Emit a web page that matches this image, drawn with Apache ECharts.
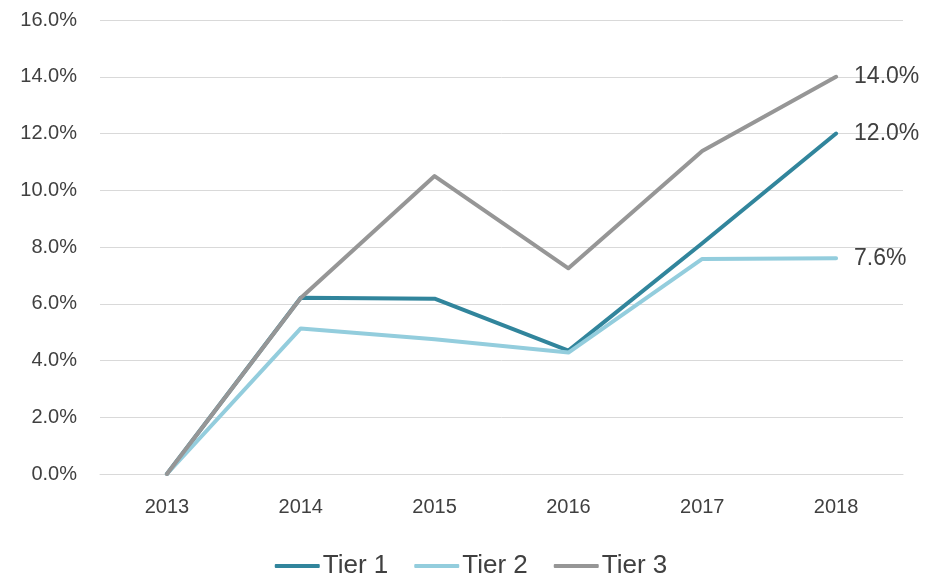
<!DOCTYPE html>
<html>
<head>
<meta charset="utf-8">
<script src="https://cdn.jsdelivr.net/npm/echarts@6/dist/echarts.min.js"></script>
<style>html,body{margin:0;padding:0;background:#fff}#c{width:942px;height:577px}</style>
</head>
<body>
<div id="c"></div>
<script>
const years = ['2013','2014','2015','2016','2017','2018'];
const tier1 = [0, 6.21, 6.18, 4.35, 8.13, 12.0];
const tier2 = [0, 5.13, 4.75, 4.28, 7.58, 7.6];
const tier3 = [0, 6.2, 10.5, 7.25, 11.38, 14.0];
const seriesNames = ['Tier 1', 'Tier 2', 'Tier 3'];
const colors = ['#31859C', '#93CDDD', '#969696'];

const FONT = '"Liberation Sans", Arial, sans-serif';
const chart = echarts.init(document.getElementById('c'), null, {renderer: 'canvas'});
function mk(name, data, color) {
  return {
    name, type: 'line', data, color,
    symbol: 'none', smooth: false,
    lineStyle: {width: 4, color, cap: 'round', join: 'round'},
    endLabel: {
      show: true, distance: 18,
      formatter: p => Number(p.value).toFixed(1) + '%',
      color: '#404040', fontSize: 23, fontFamily: FONT
    },
    emphasis: {disabled: true},
    animation: false
  };
}
chart.setOption({
  backgroundColor: '#fff',
  animation: false,
  grid: {left: 100, right: 39, top: 20, bottom: 103, containLabel: false},
  legend: {
    top: 548, left: 'center',
    itemWidth: 45, itemHeight: 4, itemGap: 26,
    icon: 'roundRect',
    textStyle: {color: '#404040', fontSize: 26, fontFamily: FONT, padding: [0, 0, 0, -2]},
    data: seriesNames
  },
  xAxis: {
    type: 'category', data: years, boundaryGap: true,
    axisLine: {show: true, lineStyle: {color: '#D9D9D9', width: 1}},
    axisTick: {show: false},
    axisLabel: {color: '#404040', fontSize: 20, fontFamily: FONT, margin: 23}
  },
  yAxis: {
    type: 'value', min: 0, max: 16, interval: 2,
    axisLine: {show: false}, axisTick: {show: false},
    splitLine: {lineStyle: {color: '#D9D9D9', width: 1}},
    axisLabel: {color: '#404040', fontSize: 20, fontFamily: FONT, margin: 23,
      formatter: v => v.toFixed(1) + '%'}
  },
  series: [
    mk(seriesNames[0], tier1, colors[0]),
    mk(seriesNames[1], tier2, colors[1]),
    mk(seriesNames[2], tier3, colors[2])
  ]
});
</script>
</body>
</html>
